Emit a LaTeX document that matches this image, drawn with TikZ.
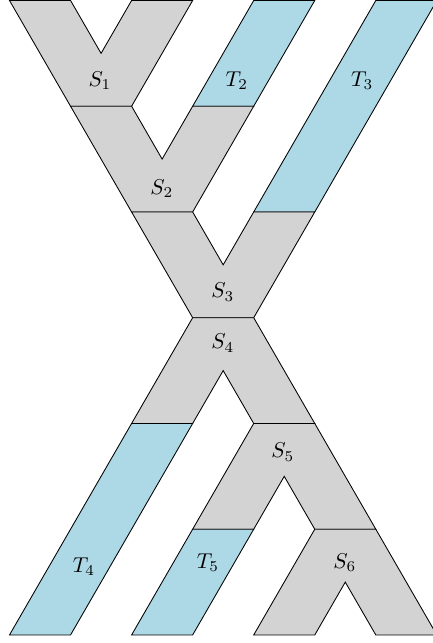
\documentclass[tikz,border=0pt]{standalone}
\usepackage{tikz}
\definecolor{bandgray}{RGB}{211,211,211}
\definecolor{bandblue}{RGB}{173,216,230}
\begin{document}
\begin{tikzpicture}[x=1cm,y=1cm,
  sband/.style={fill=bandgray,draw=black,line join=miter},
  tband/.style={fill=bandblue,draw=black,line join=miter},
  lab/.style={inner sep=1pt}]
\pgfmathsetmacro{\h}{1.7320508}
\useasboundingbox (-0.1555,0.008) rectangle (6.931,-10.524);
% S1
\draw[sband] (0,0) -- (1,0) -- (1.5,-0.5*\h) -- (2,0) -- (3,0) -- (2,-\h) -- (1,-\h) -- cycle;
% T2
\draw[tband] (4,0) -- (5,0) -- (4,-\h) -- (3,-\h) -- cycle;
% T3
\draw[tband] (6,0) -- (7,0) -- (5,-2*\h) -- (4,-2*\h) -- cycle;
% S2
\draw[sband] (1,-\h) -- (2,-\h) -- (2.5,-1.5*\h) -- (3,-\h) -- (4,-\h) -- (3,-2*\h) -- (2,-2*\h) -- cycle;
% S3
\draw[sband] (2,-2*\h) -- (3,-2*\h) -- (3.5,-2.5*\h) -- (4,-2*\h) -- (5,-2*\h) -- (4,-3*\h) -- (3,-3*\h) -- cycle;
% S4
\draw[sband] (3,-3*\h) -- (4,-3*\h) -- (5,-4*\h) -- (4,-4*\h) -- (3.5,-3.5*\h) -- (3,-4*\h) -- (2,-4*\h) -- cycle;
% T4
\draw[tband] (2,-4*\h) -- (3,-4*\h) -- (1,-6*\h) -- (0,-6*\h) -- cycle;
% S5
\draw[sband] (4,-4*\h) -- (5,-4*\h) -- (6,-5*\h) -- (5,-5*\h) -- (4.5,-4.5*\h) -- (4,-5*\h) -- (3,-5*\h) -- cycle;
% T5
\draw[tband] (3,-5*\h) -- (4,-5*\h) -- (3,-6*\h) -- (2,-6*\h) -- cycle;
% S6
\draw[sband] (5,-5*\h) -- (6,-5*\h) -- (7,-6*\h) -- (6,-6*\h) -- (5.5,-5.5*\h) -- (5,-6*\h) -- (4,-6*\h) -- cycle;
% labels
\node[lab] (s1) at (1.481,-1.309) {$S_1$};
\node[lab] (t2) at (3.723,-1.309) {$T_2$};
\node[lab] (t3) at (5.777,-1.309) {$T_3$};
\node[lab] (s2) at (2.496,-3.077) {$S_2$};
\node[lab] (s3) at (3.494,-4.779) {$S_3$};
\node[lab] (s4) at (3.494,-5.614) {$S_4$};
\node[lab] (s5) at (4.476,-7.398) {$S_5$};
\node[lab] (s6) at (5.491,-9.214) {$S_6$};
\node[lab] (t4) at (1.219,-9.280) {$T_4$};
\node[lab] (t5) at (3.249,-9.214) {$T_5$};
\end{tikzpicture}
\end{document}
